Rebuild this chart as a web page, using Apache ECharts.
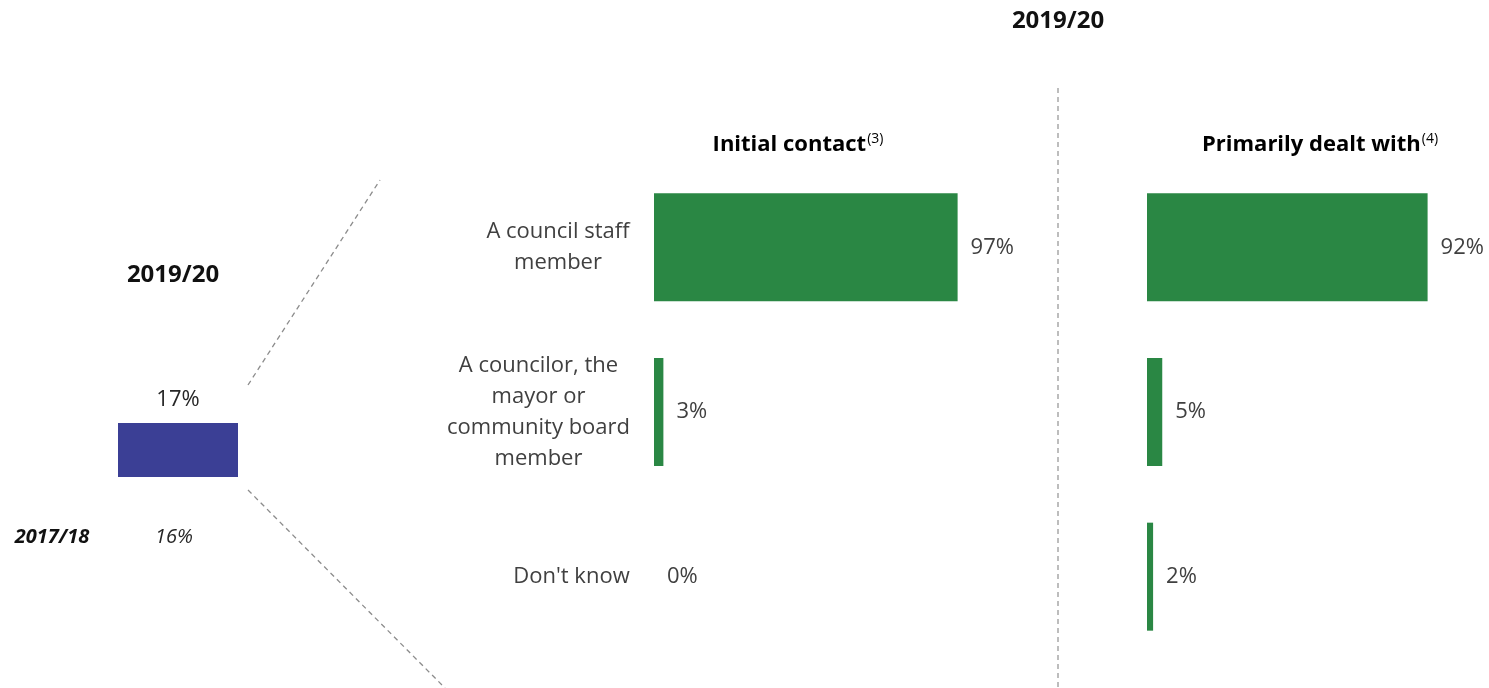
<!DOCTYPE html>
<html>
<head>
<meta charset="utf-8">
<script src="https://cdn.jsdelivr.net/npm/echarts@6/dist/echarts.min.js"></script>
<style>
  html, body { margin: 0; padding: 0; background: #fff; }
  #container { width: 1489px; height: 688px; }
</style>
</head>
<body>
<div id="container"></div>
<script>
const periods = ['2019/20', '2017/18']
const contactShare = [17]
const contactSharePrior = [16]
const categories = [
    'A council staff\nmember',
    'A councilor, the\nmayor or\ncommunity board\nmember',
    "Don't know"
]
const initialContact = [97, 3, 0]
const primarilyDealt = [92, 5, 2]
const panelTitles = ['Initial contact', 'Primarily dealt with']
const panelNotes = ['(3)', '(4)']

const green = '#2a8744'
const blue = '#3b3f95'
const textColor = '#404040'
const fontFamily = '"Open Sans", "Noto Sans", sans-serif'
const catFont = 22

// width of the widest line per category, so lines can be centred in their block
const ctx = document.createElement('canvas').getContext('2d')
ctx.font = catFont + 'px "Open Sans"'
const rich = {}
categories.forEach((c, i) => {
    const w = Math.max(...c.split('\n').map(l => ctx.measureText(l).width))
    rich['r' + i] = { width: Math.ceil(w), align: 'center', fontSize: catFont, lineHeight: 31, color: textColor, fontFamily }
})

const myChart = echarts.init(document.getElementById('container'), null, { renderer: 'canvas' })

const valueLabel = {
    show: true,
    position: 'right',
    distance: 13,
    formatter: p => p.value + '%',
    color: textColor,
    fontSize: 22,
    fontFamily
}

const panelTitle = (i, x) => ({
    type: 'text',
    x: x,
    y: 145,
    style: {
        text: '{t|' + panelTitles[i] + '}{s|' + panelNotes[i] + '}',
        textAlign: 'center',
        textVerticalAlign: 'middle',
        rich: {
            t: { fontSize: 22, fontWeight: 'bold', color: textColor, fontFamily, lineHeight: 28 },
            s: { fontSize: 14, color: textColor, fontFamily, lineHeight: 28, padding: [0, 0, 12, 1] }
        }
    }
})

const option = {
    backgroundColor: '#fff',
    textStyle: { fontFamily },
    grid: [
        { left: 118, width: 120, top: 159.4, bottom: 211 },
        { left: 654, width: 313, top: 165, height: 494 },
        { left: 1147, width: 305, top: 165, height: 494 }
    ],
    xAxis: [
        { gridIndex: 0, type: 'category', data: [periods[0]], show: false },
        { gridIndex: 1, type: 'value', min: 0, max: 100, show: false },
        { gridIndex: 2, type: 'value', min: 0, max: 100, show: false }
    ],
    yAxis: [
        { gridIndex: 0, type: 'value', min: 0, max: 100, show: false },
        {
            gridIndex: 1,
            type: 'category',
            data: categories,
            inverse: true,
            axisLine: { show: false },
            axisTick: { show: false },
            splitLine: { show: false },
            axisLabel: {
                margin: 24,
                align: 'right',
                formatter: (value, index) => value.split('\n').map(l => '{r' + index + '|' + l + '}').join('\n'),
                rich: rich
            }
        },
        {
            gridIndex: 2,
            type: 'category',
            data: categories,
            inverse: true,
            show: false
        }
    ],
    series: [
        {
            type: 'bar',
            xAxisIndex: 0,
            yAxisIndex: 0,
            data: contactShare,
            barWidth: '100%',
            itemStyle: { color: blue },
            label: {
                show: true,
                position: 'top',
                distance: 12,
                formatter: p => p.value + '%',
                color: '#262626',
                fontSize: 22,
                fontFamily
            }
        },
        {
            type: 'bar',
            xAxisIndex: 1,
            yAxisIndex: 1,
            data: initialContact,
            barWidth: 108,
            itemStyle: { color: green },
            label: valueLabel
        },
        {
            type: 'bar',
            xAxisIndex: 2,
            yAxisIndex: 2,
            data: primarilyDealt,
            barWidth: 108,
            itemStyle: { color: green },
            label: valueLabel
        }
    ],
    graphic: [
        {
            type: 'text', x: 1058, y: 21,
            style: { text: periods[0], textAlign: 'center', textVerticalAlign: 'middle', fontSize: 24, fontWeight: 'bold', fill: '#111', fontFamily }
        },
        {
            type: 'text', x: 173, y: 275,
            style: { text: periods[0], textAlign: 'center', textVerticalAlign: 'middle', fontSize: 24, fontWeight: 'bold', fill: '#111', fontFamily }
        },
        {
            type: 'text', x: 52, y: 537,
            style: { text: periods[1], textAlign: 'center', textVerticalAlign: 'middle', fontSize: 20, fontWeight: 'bold', fontStyle: 'italic', fill: '#111', fontFamily }
        },
        {
            type: 'text', x: 174, y: 537,
            style: { text: contactSharePrior[0] + '%', textAlign: 'center', textVerticalAlign: 'middle', fontSize: 20, fontStyle: 'italic', fill: '#262626', fontFamily }
        },
        panelTitle(0, 798),
        panelTitle(1, 1320),
        {
            type: 'line',
            shape: { x1: 248, y1: 385, x2: 380, y2: 180 },
            style: { stroke: '#8c8c8c', lineWidth: 1.3, lineDash: [5, 4] }
        },
        {
            type: 'line',
            shape: { x1: 248, y1: 490, x2: 445, y2: 688 },
            style: { stroke: '#8c8c8c', lineWidth: 1.3, lineDash: [5, 4] }
        },
        {
            type: 'line',
            shape: { x1: 1058, y1: 88, x2: 1058, y2: 688 },
            style: { stroke: '#9a9a9a', lineWidth: 1.3, lineDash: [5, 4] }
        }
    ]
}

myChart.setOption(option)
</script>
</body>
</html>
